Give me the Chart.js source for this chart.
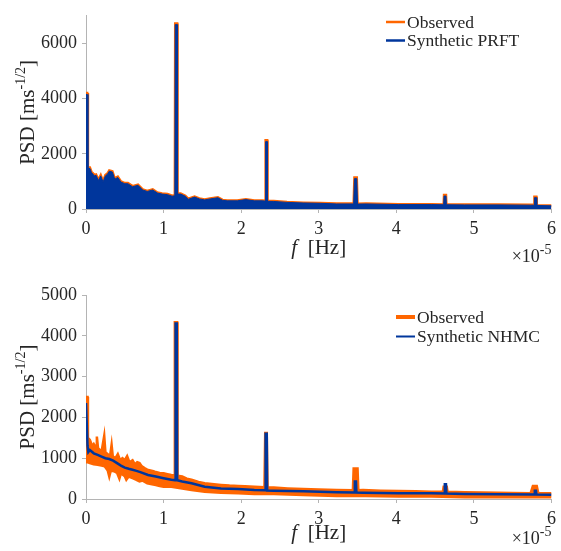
<!DOCTYPE html>
<html><head><meta charset="utf-8">
<script src="https://cdn.jsdelivr.net/npm/chart.js@4/dist/chart.umd.min.js"></script>
<style>
html,body{margin:0;padding:0;background:#fff;overflow:hidden;}
#top{position:absolute;left:0;top:0;width:561px;height:275px;}
#bot{position:absolute;left:0;top:275px;width:561px;height:276px;}
</style></head><body>
<div id="top"><canvas id="c1" width="561" height="275"></canvas></div>
<div id="bot"><canvas id="c2" width="561" height="276"></canvas></div>
<script>
// ---------- data (frequency in units of 1e-5 Hz) ----------
const xTicks = [0, 1, 2, 3, 4, 5, 6];
const topYTicks = [0, 2000, 4000, 6000];
const botYTicks = [0, 1000, 2000, 3000, 4000, 5000];

// Top panel: Observed vs Synthetic PRFT (upper envelope of dense PSD)
const topFreq = [0, 0.015, 0.025, 0.05, 0.07, 0.09, 0.11, 0.13, 0.16, 0.19, 0.22, 0.25, 0.28, 0.3, 0.34, 0.37, 0.41, 0.45, 0.5, 0.54, 0.6, 0.67, 0.73, 0.79, 0.86, 0.92, 0.98, 1.05, 1.11, 1.145, 1.15, 1.175, 1.18, 1.22, 1.28, 1.32, 1.4, 1.46, 1.53, 1.6, 1.7, 1.76, 1.82, 1.95, 2.06, 2.17, 2.27, 2.31, 2.315, 2.335, 2.34, 2.42, 2.59, 2.8, 3.02, 3.23, 3.45, 3.46, 3.49, 3.5, 3.61, 4.03, 4.45, 4.61, 4.615, 4.64, 4.645, 4.88, 5.31, 5.73, 5.775, 5.78, 5.805, 5.81, 6.0];
const topObserved = [4200, 4200, 1500, 1500, 1350, 1290, 1230, 1250, 1060, 1230, 1000, 1230, 1300, 1400, 1370, 1110, 1170, 1000, 940, 940, 830, 885, 710, 655, 710, 600, 560, 540, 480, 500, 6720, 6720, 560, 560, 480, 370, 450, 380, 345, 380, 425, 330, 310, 310, 356, 310, 310, 300, 2490, 2490, 290, 287, 253, 230, 218, 195, 195, 1140, 1140, 190, 195, 172, 172, 165, 505, 505, 165, 160, 160, 150, 150, 448, 448, 140, 126];
const topSynthetic = [4150, 4150, 1460, 1470, 1320, 1260, 1200, 1220, 1030, 1200, 975, 1200, 1270, 1370, 1340, 1080, 1140, 975, 915, 915, 805, 860, 690, 635, 690, 580, 540, 520, 462, 482, 6680, 6680, 540, 540, 462, 355, 432, 365, 330, 365, 408, 316, 296, 296, 340, 296, 296, 286, 2440, 2440, 276, 273, 240, 218, 206, 183, 183, 1100, 1100, 178, 183, 160, 160, 153, 470, 470, 153, 148, 148, 138, 138, 410, 410, 128, 115];

// Bottom panel: Observed (band: upper / lower) vs Synthetic NHMC
const botObsUpperFreq = [0, 0.02, 0.025, 0.05, 0.08, 0.1, 0.13, 0.14, 0.155, 0.18, 0.2, 0.235, 0.25, 0.28, 0.31, 0.33, 0.345, 0.38, 0.41, 0.44, 0.47, 0.5, 0.53, 0.56, 0.6, 0.63, 0.66, 0.69, 0.72, 0.76, 0.79, 0.83, 0.87, 0.9, 0.95, 1.0, 1.05, 1.1, 1.14, 1.145, 1.175, 1.18, 1.24, 1.3, 1.36, 1.45, 1.53, 1.65, 1.74, 1.85, 1.96, 2.05, 2.17, 2.3, 2.31, 2.33, 2.34, 2.42, 2.6, 2.8, 3.0, 3.23, 3.44, 3.45, 3.5, 3.51, 3.57, 3.8, 4.03, 4.25, 4.45, 4.6, 4.61, 4.65, 4.66, 4.88, 5.1, 5.31, 5.5, 5.73, 5.76, 5.81, 5.83, 6.0];
const botObsUpper = [2500, 2500, 1500, 1450, 1300, 1350, 1250, 1530, 1250, 1200, 1150, 1550, 1150, 1100, 1050, 1330, 1050, 1000, 1100, 950, 1000, 950, 1050, 900, 950, 850, 900, 880, 800, 750, 720, 700, 680, 660, 640, 630, 610, 590, 580, 4330, 4330, 570, 550, 500, 470, 420, 385, 360, 345, 330, 320, 310, 300, 290, 1620, 1620, 285, 280, 260, 245, 235, 220, 215, 750, 750, 215, 220, 205, 195, 190, 180, 178, 300, 300, 175, 165, 160, 155, 150, 140, 320, 320, 140, 140];
const botObsLowerFreq = [0, 0.025, 0.05, 0.1, 0.15, 0.2, 0.24, 0.28, 0.3, 0.32, 0.36, 0.4, 0.43, 0.45, 0.5, 0.52, 0.55, 0.6, 0.65, 0.69, 0.73, 0.79, 0.85, 0.9, 0.95, 1.0, 1.1, 1.2, 1.36, 1.53, 1.74, 1.96, 2.17, 2.42, 2.8, 3.23, 3.6, 4.03, 4.45, 4.88, 5.31, 5.73, 6.0];
const botObsLower = [900, 900, 880, 850, 840, 820, 800, 700, 550, 700, 680, 640, 500, 630, 560, 470, 550, 510, 470, 430, 450, 385, 360, 345, 320, 300, 300, 270, 220, 180, 155, 140, 120, 120, 100, 75, 75, 60, 60, 40, 40, 40, 40];
const botSynFreq = [0, 0.01, 0.02, 0.03, 0.05, 0.1, 0.15, 0.2, 0.25, 0.3, 0.35, 0.4, 0.45, 0.5, 0.55, 0.6, 0.65, 0.7, 0.8, 0.9, 1.0, 1.1, 1.15, 1.155, 1.17, 1.175, 1.24, 1.36, 1.53, 1.74, 1.96, 2.17, 2.31, 2.315, 2.33, 2.335, 2.42, 2.8, 3.23, 3.46, 3.465, 3.48, 3.485, 3.57, 4.03, 4.45, 4.62, 4.625, 4.64, 4.645, 4.88, 5.31, 5.78, 5.785, 5.8, 5.805, 6.0];
const botSynthetic = [2350, 2350, 1300, 1150, 1200, 1120, 1080, 1040, 1000, 980, 940, 880, 820, 770, 740, 715, 690, 660, 590, 550, 510, 470, 460, 4300, 4300, 460, 430, 385, 300, 260, 245, 220, 215, 1600, 1600, 210, 205, 190, 165, 160, 430, 430, 160, 155, 140, 140, 135, 360, 360, 135, 125, 115, 112, 205, 205, 112, 107];

// ---------- styling ----------
const FONT = "'Liberation Serif', 'Times New Roman', serif";
const ORANGE = '#ff6600';
const BLUE = '#00369c';
const AXIS = '#b4b4b4';
const TEXT = '#262626';

function pts(xs, ys) { return xs.map((x, i) => ({ x: x, y: ys[i] })); }

function xScale(h) {
  return {
    type: 'linear', min: 0, max: 6,
    afterBuildTicks: s => { s.ticks = xTicks.map(v => ({ value: v })); },
    afterFit: s => { s.height = h; },
    ticks: { color: TEXT, font: { family: FONT, size: 18 }, padding: 5, maxRotation: 0, autoSkip: false,
             callback: v => String(v) },
    grid: { display: true, drawOnChartArea: false, drawTicks: true, tickLength: 4, color: AXIS },
    border: { display: true, color: AXIS, width: 1 }
  };
}
function yScale(max, tickArr) {
  return {
    type: 'linear', min: 0, max: max,
    afterBuildTicks: s => { s.ticks = tickArr.map(v => ({ value: v })); },
    afterFit: s => { s.width = 86; },
    ticks: { color: TEXT, font: { family: FONT, size: 18 }, padding: 5, callback: v => String(v) },
    grid: { display: true, drawOnChartArea: false, drawTicks: true, tickLength: 4, color: AXIS },
    border: { display: true, color: AXIS, width: 1 }
  };
}

// custom text plugin: axis titles with superscripts, exponent, legend
const decor = {
  id: 'decor',
  afterDraw(chart, args, o) {
    const ctx = chart.ctx, ca = chart.chartArea;
    ctx.save();
    ctx.fillStyle = TEXT;
    ctx.textBaseline = 'alphabetic';
    const big = "21px " + FONT, sup = "14px " + FONT;
    ctx.font = big; const w1 = ctx.measureText('PSD [ms').width; const w3 = ctx.measureText(']').width;
    ctx.font = sup; const w2 = ctx.measureText('-1/2').width;
    const tw = w1 + w2 + w3;
    ctx.translate(o.yTitleX, (ca.top + ca.bottom) / 2);
    ctx.rotate(-Math.PI / 2);
    ctx.textAlign = 'left';
    ctx.font = big; ctx.fillText('PSD [ms', -tw / 2, 7);
    ctx.font = sup; ctx.fillText('-1/2', -tw / 2 + w1, -2);
    ctx.font = big; ctx.fillText(']', -tw / 2 + w1 + w2, 7);
    ctx.restore();
    ctx.save();
    ctx.fillStyle = TEXT; ctx.textAlign = 'left'; ctx.textBaseline = 'alphabetic';
    const fi = "italic 21px " + FONT;
    ctx.font = fi; const wf = ctx.measureText('f').width;
    ctx.font = big; const wr = ctx.measureText('  [Hz]').width;
    const cx = (ca.left + ca.right) / 2 - (wf + wr) / 2;
    const by = ca.bottom + o.xTitleDy;
    ctx.font = fi; ctx.fillText('f', cx, by);
    ctx.font = big; ctx.fillText('  [Hz]', cx + wf, by);
    const eb = ca.bottom + o.expDy;
    ctx.font = sup; const we = ctx.measureText('-5').width;
    ctx.font = "18px " + FONT; const wm = ctx.measureText('\u00d710').width;
    const ex = ca.right - we - wm;
    ctx.fillText('\u00d710', ex, eb);
    ctx.font = sup; ctx.fillText('-5', ex + wm, eb - 8);
    ctx.font = "17.5px " + FONT; ctx.textBaseline = 'middle';
    o.legend.forEach((it, i) => {
      const ds = chart.data.datasets[it.ds];
      const y = o.legendY + i * o.legendGap;
      ctx.strokeStyle = ds.borderColor; ctx.lineWidth = it.lw;
      ctx.beginPath(); ctx.moveTo(o.legendX, y); ctx.lineTo(o.legendX + 19, y); ctx.stroke();
      ctx.fillStyle = TEXT; ctx.fillText(ds.label, o.legendX + 21, y + 1);
    });
    ctx.restore();
  }
};

const common = {
  responsive: false, animation: false, events: [],
  elements: { point: { radius: 0 }, line: { tension: 0 } },
};

new Chart(document.getElementById('c1'), {
  type: 'line',
  data: {
    datasets: [
      { label: 'Observed', order: 2, data: pts(topFreq, topObserved), borderColor: ORANGE, backgroundColor: ORANGE, borderWidth: 2.5, fill: 'origin' },
      { label: 'Synthetic PRFT', order: 1, data: pts(topFreq, topSynthetic), borderColor: BLUE, backgroundColor: BLUE, borderWidth: 1, fill: 'origin' }
    ]
  },
  options: Object.assign({}, common, {
    layout: { padding: { top: 6, right: 3, left: 0, bottom: 0 }, autoPadding: false },
    scales: { x: xScale(66), y: yScale(7000, topYTicks) },
    plugins: {
      legend: { display: false }, tooltip: { enabled: false },
      decor: { yTitleX: 27, xTitleDy: 45, expDy: 53, legendX: 386, legendY: 22, legendGap: 18.5,
        legend: [{ ds: 0, lw: 2.5 }, { ds: 1, lw: 2.5 }] }
    }
  }),
  plugins: [decor]
});

new Chart(document.getElementById('c2'), {
  type: 'line',
  data: {
    datasets: [
      { label: 'Observed', order: 3, data: pts(botObsUpperFreq, botObsUpper), borderColor: ORANGE, backgroundColor: ORANGE, borderWidth: 2.5, fill: '+1' },
      { label: 'Observed lower', order: 2, data: pts(botObsLowerFreq, botObsLower), borderColor: ORANGE, backgroundColor: ORANGE, borderWidth: 2.5, fill: false },
      { label: 'Synthetic NHMC', order: 1, data: pts(botSynFreq, botSynthetic), borderColor: BLUE, backgroundColor: BLUE, borderWidth: 2.5, fill: false }
    ]
  },
  options: Object.assign({}, common, {
    layout: { padding: { top: 20, right: 3, left: 0, bottom: 0 }, autoPadding: false },
    scales: { x: xScale(52), y: yScale(5000, botYTicks) },
    plugins: {
      legend: { display: false }, tooltip: { enabled: false },
      decor: { yTitleX: 27, xTitleDy: 40, expDy: 45, legendX: 396, legendY: 42, legendGap: 19.5,
        legend: [{ ds: 0, lw: 4 }, { ds: 2, lw: 2 }] }
    }
  }),
  plugins: [decor]
});
</script>
</body></html>
